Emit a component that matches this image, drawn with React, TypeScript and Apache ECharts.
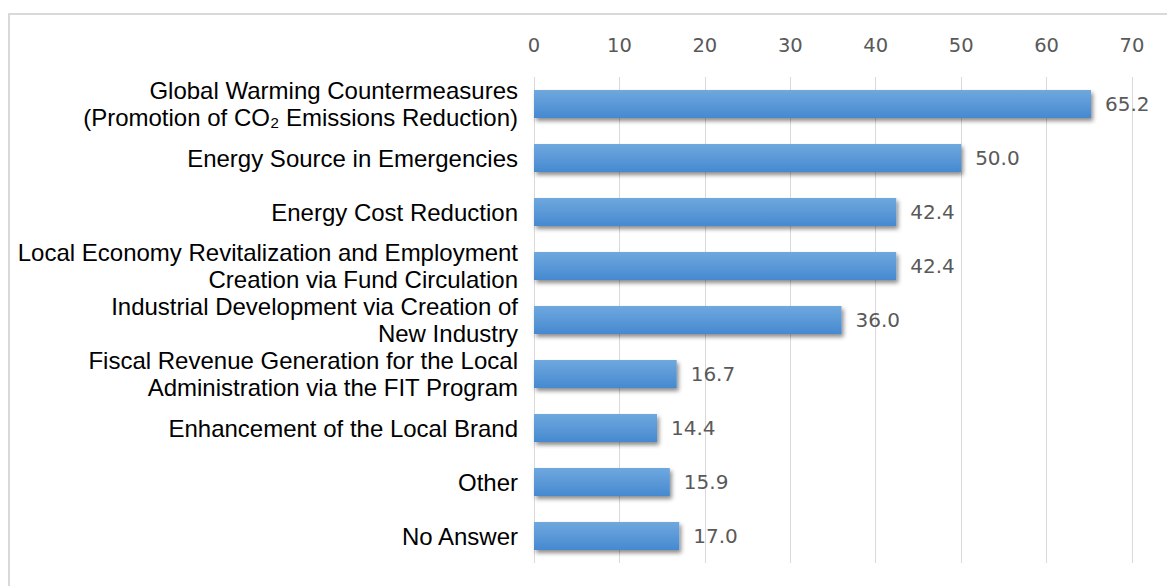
import React, { useEffect, useRef } from "react";
import * as echarts from "echarts";

const categories: string[] = [
  "Global Warming Countermeasures\n(Promotion of CO₂ Emissions Reduction)",
  "Energy Source in Emergencies",
  "Energy Cost Reduction",
  "Local Economy Revitalization and Employment\nCreation via Fund Circulation",
  "Industrial Development via Creation of\nNew Industry",
  "Fiscal Revenue Generation for the Local\nAdministration via the FIT Program",
  "Enhancement of the Local Brand",
  "Other",
  "No Answer",
];

const values: number[] = [65.2, 50.0, 42.4, 42.4, 36.0, 16.7, 14.4, 15.9, 17.0];

const axisMin = 0;
const axisMax = 70;
const axisInterval = 10;

export default function App() {
  const ref = useRef<HTMLDivElement>(null);

  useEffect(() => {
    if (!ref.current) return;
    const chart = echarts.init(ref.current, null, { renderer: "svg" });
    chart.setOption({
      animation: false,
      backgroundColor: "#ffffff",
      graphic: [
        {
          type: "rect",
          shape: { x: 9, y: 14, width: 1300, height: 700 },
          style: { fill: "none", stroke: "#d9d9d9", lineWidth: 2 },
          silent: true,
        },
      ],
      grid: { left: 534, right: 35, top: 77, bottom: 23, containLabel: false },
      xAxis: {
        type: "value",
        position: "top",
        min: axisMin,
        max: axisMax,
        interval: axisInterval,
        axisLine: { show: false },
        axisTick: { show: false },
        axisLabel: {
          color: "#595959",
          fontFamily: "'DejaVu Sans', sans-serif",
          fontSize: 19.5,
          margin: 22,
        },
        splitLine: { show: true, lineStyle: { color: "#d9d9d9", width: 1 } },
      },
      yAxis: {
        type: "category",
        data: categories,
        inverse: true,
        axisLine: { show: false },
        axisTick: { show: false },
        axisLabel: {
          color: "#000000",
          fontFamily: "'Liberation Sans', Arial, sans-serif",
          fontSize: 24,
          lineHeight: 26.5,
          align: "right",
          margin: 16,
          padding: [0, 0, 4, 0],
        },
      },
      series: [
        {
          type: "bar",
          data: values,
          barWidth: "52%",
          itemStyle: {
            color: new echarts.graphic.LinearGradient(0, 0, 0, 1, [
              { offset: 0, color: "#6fa8de" },
              { offset: 1, color: "#4689d0" },
            ]),
            shadowColor: "rgba(0,0,0,0.45)",
            shadowBlur: 4,
            shadowOffsetX: 2,
            shadowOffsetY: 3,
          },
          label: {
            show: true,
            position: "right",
            distance: 14,
            color: "#595959",
            fontFamily: "'DejaVu Sans', sans-serif",
            fontSize: 20,
            formatter: (p: any) => Number(p.value).toFixed(1),
          },
        },
      ],
    });
    return () => chart.dispose();
  }, []);

  return (
    <div
      ref={ref}
      style={{ position: "fixed", left: 0, top: 0, width: 1167, height: 586 }}
    />
  );
}
